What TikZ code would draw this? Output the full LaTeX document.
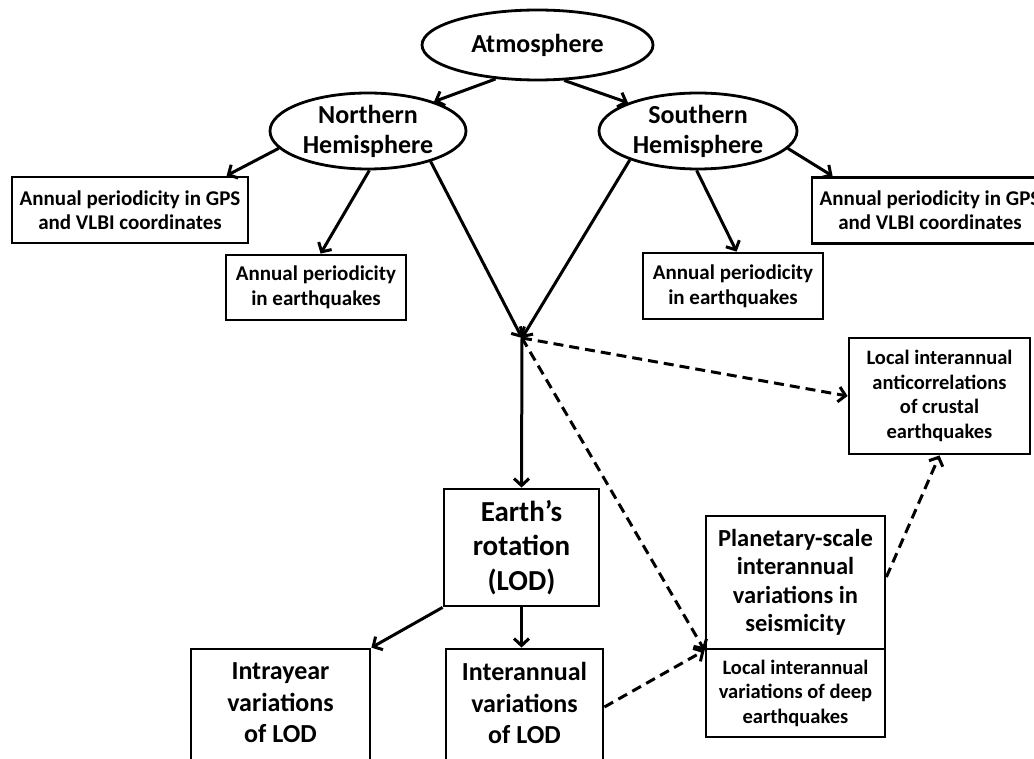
\documentclass[tikz,border=0pt]{standalone}
\usepackage{fontspec}
\setmainfont{Carlito}
\usetikzlibrary{arrows.meta,shapes.geometric}
\begin{document}
\begin{tikzpicture}[x=1pt,y=-1pt,
 ell/.style={draw,ellipse,line width=2.8pt,inner sep=0pt,align=center},
 box/.style={draw,rectangle,line width=2.8pt,inner sep=0pt,align=center},
 txt/.style={inner sep=0pt,align=center},
 fbig/.style={font=\bfseries\fontsize{26}{30}\selectfont},
 fearth/.style={font=\bfseries\fontsize{29}{34.5}\selectfont},
 flod/.style={font=\bfseries\fontsize{26}{31.5}\selectfont},
 fplan/.style={font=\bfseries\fontsize{24.5}{28.5}\selectfont},
 fsmall/.style={font=\bfseries\fontsize{20.5}{24.5}\selectfont},
 feq/.style={font=\bfseries\fontsize{21}{25}\selectfont},
 fgps/.style={font=\bfseries\fontsize{21}{24}\selectfont},
 arr/.style={line width=3pt,-{Straight Barb[length=7pt,width=15pt,line width=3pt]}},
 darr/.style={arr,dash pattern=on 10pt off 6pt},
 ]
\useasboundingbox (0,0) rectangle (1034,759);
\clip (0,0) rectangle (1034,759);
% ellipses
\node[ell,fbig,minimum width=231pt,minimum height=70pt] (atm) at (537.5,45) {Atmosphere};
\node[ell,fbig,minimum width=196pt,minimum height=76pt] (nh) at (368,131) {Northern\\Hemisphere};
\node[ell,fbig,minimum width=198pt,minimum height=76pt] (sh) at (698,131) {Southern\\Hemisphere};
% upper boxes
\node[box,fgps,minimum width=236pt,minimum height=66pt] (gpsL) at (130,210) {Annual periodicity in GPS\\and VLBI coordinates};
\node[box,feq,minimum width=180pt,minimum height=65pt] (eqL) at (316,287.5) {Annual periodicity\\in earthquakes};
\node[box,fgps,minimum width=236pt,minimum height=66pt] (gpsR) at (930,210.5) {Annual periodicity in GPS\\and VLBI coordinates};
\node[box,feq,minimum width=180pt,minimum height=66pt] (eqR) at (733,286) {Annual periodicity\\in earthquakes};
\coordinate (junc) at (522,338);
% lower boxes
\node[box,fearth,minimum width=155pt,minimum height=117pt] (earth) at (521.5,547.5) {Earth’s\\rotation\\(LOD)};
\node[box,minimum width=179pt,minimum height=132pt] (intra) at (280.5,715) {};
\node[txt,flod] (intratxt) at (280.5,703) {Intrayear\\variations\\of LOD};
\node[box,minimum width=157pt,minimum height=132pt] (inter) at (524.5,715) {};
\node[txt,flod] (intertxt) at (524.5,703) {Interannual\\variations\\of LOD};
\node[box,fplan,minimum width=179pt,minimum height=133pt] (plan) at (795.5,582.5) {Planetary-scale\\interannual\\variations in\\seismicity};
\node[box,fsmall,minimum width=179pt,minimum height=88pt] (deep) at (795.5,693) {Local interannual\\variations of deep\\earthquakes};
\node[box,fsmall,minimum width=181pt,minimum height=116pt] (crust) at (939.5,396) {Local interannual\\anticorrelations\\of crustal\\earthquakes};
% solid arrows
\draw[arr] (atm.219) -- (nh.24);
\draw[arr] (atm.307) -- (sh.158);
\draw[arr] (nh.191) -- ([xshift=216pt]gpsL.north west);
\draw[arr] (nh.272) -- ([xshift=96pt]eqL.north west);
\draw[arr] (nh.334) -- (junc);
\draw[arr] (sh.203) -- (junc);
\draw[arr] (sh.268) -- ([xshift=95pt]eqR.north west);
\draw[arr] (sh.349) -- ([xshift=22pt]gpsR.north west);
\draw[arr] (junc) -- (earth.north);
\draw[arr] (earth.south west) -- (intra.north east);
\draw[arr] (earth.south) -- (earth.south |- inter.north);
% dashed arrows
\draw[darr] (junc) -- (crust.west);
\draw[darr] (junc) -- (plan.south west);
\draw[darr] ([yshift=8pt]inter.east) -- (plan.south west);
\draw[darr] ([yshift=5.5pt]plan.east) -- (crust.south);
\end{tikzpicture}
\end{document}
